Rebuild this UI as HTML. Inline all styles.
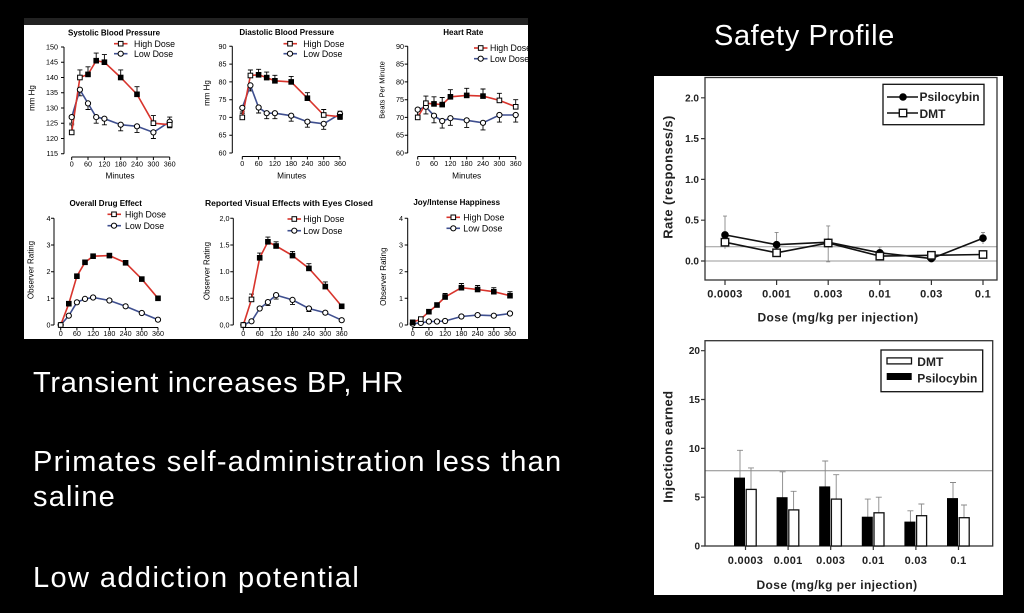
<!DOCTYPE html>
<html><head><meta charset="utf-8"><style>
html,body{margin:0;padding:0;background:#000;}
body{width:1024px;height:613px;overflow:hidden;position:relative;font-family:"Liberation Sans",Arial,sans-serif;}
.t{position:absolute;color:#fff;font-size:29px;letter-spacing:0.6px;white-space:nowrap;line-height:1;}
svg{position:absolute;left:0;top:0;}
</style></head><body>
<svg width="1024" height="613" viewBox="0 0 1024 613" xmlns="http://www.w3.org/2000/svg" font-family="Liberation Sans, Arial, sans-serif">
<rect x="0" y="0" width="1024" height="613" fill="#000"/>
<rect x="24" y="18" width="504" height="7" fill="#222"/>
<rect x="24" y="25" width="504" height="314" fill="#fff"/>
<rect x="654" y="76" width="349" height="519" fill="#fff"/>

<!-- ============ P1 Systolic ============ -->
<g stroke="#000" stroke-width="1" fill="none">
<path d="M64 47V153.7 M61 47H64 M61 62.2H64 M61 77.5H64 M61 92.7H64 M61 108H64 M61 123.2H64 M61 138.5H64 M61 153.7H64"/>
<path d="M71.7 157H169.7 M71.7 157V160 M88 157V160 M104.4 157V160 M120.7 157V160 M137 157V160 M153.4 157V160 M169.7 157V160"/>
</g>
<g font-size="7.2" fill="#000" text-anchor="end">
<text x="58" y="49.5">150</text><text x="58" y="64.7">145</text><text x="58" y="80">140</text><text x="58" y="95.2">135</text><text x="58" y="110.5">130</text><text x="58" y="125.7">125</text><text x="58" y="141">120</text><text x="58" y="156.2">115</text>
</g>
<g font-size="7.2" fill="#000" text-anchor="middle">
<text x="71.7" y="166.5">0</text><text x="88" y="166.5">60</text><text x="104.4" y="166.5">120</text><text x="120.7" y="166.5">180</text><text x="137" y="166.5">240</text><text x="153.4" y="166.5">300</text><text x="169.7" y="166.5">360</text>
<text x="120" y="178.5" font-size="8.3">Minutes</text>
<text x="114" y="35.5" font-size="8" font-weight="bold">Systolic Blood Pressure</text>
<text transform="translate(34.5,98) rotate(-90)" font-size="8">mm Hg</text>
</g>
<g>
<path d="M114 43.7H127.5" stroke="#d8342c" stroke-width="1.6"/>
<rect x="118.4" y="41.4" width="4.6" height="4.6" fill="#fff" stroke="#000"/>
<path d="M114 53.7H127.5" stroke="#3f4f8f" stroke-width="1.6"/>
<circle cx="120.7" cy="53.7" r="2.6" fill="#fff" stroke="#000"/>
<text x="134" y="46.8" font-size="8.8">High Dose</text>
<text x="134" y="56.8" font-size="8.8">Low Dose</text>
</g>
<g fill="none" stroke="#000" stroke-width="0.9">
<path d="M71.7 132.4V124.8M69.2 124.8H74.2 M79.9 77.5V69.9M77.4 69.9H82.4 M88 74.4V66.8M85.5 66.8H90.5 M96.2 60.7V53.1M93.7 53.1H98.7 M104.4 62.2V54.6M101.9 54.6H106.9 M120.7 77.5V69.9M118.2 69.9H123.2 M137 94.3V86.7M134.5 86.7H139.5 M153.4 123.2V115.6M150.9 115.6H155.9 M169.7 124.7V117.1M167.2 117.1H172.2"/>
<path d="M71.7 117.1V123.2M69.2 123.2H74.2 M79.9 89.7V95.8M77.4 95.8H82.4 M88 103.4V109.5M85.5 109.5H90.5 M96.2 117.1V123.2M93.7 123.2H98.7 M104.4 118.7V124.8M101.9 124.8H106.9 M120.7 124.7V130.8M118.2 130.8H123.2 M137 126.3V132.4M134.5 132.4H139.5 M153.4 132.4V138.5M150.9 138.5H155.9 M169.7 121.7V127.8M167.2 127.8H172.2"/>
</g>
<polyline points="71.7,117.1 79.9,89.7 88.0,103.4 96.2,117.1 104.4,118.7 120.7,124.7 137.0,126.3 153.4,132.4 169.7,121.7" fill="none" stroke="#3f4f8f" stroke-width="1.6"/>
<polyline points="71.7,132.4 79.9,77.5 88.0,74.4 96.2,60.7 104.4,62.2 120.7,77.5 137.0,94.3 153.4,123.2 169.7,124.7" fill="none" stroke="#d8342c" stroke-width="1.6"/>
<g stroke="#000" stroke-width="1" fill="#fff">
<circle cx="71.7" cy="117.1" r="2.6"/><circle cx="79.9" cy="89.7" r="2.6"/><circle cx="88" cy="103.4" r="2.6"/><circle cx="96.2" cy="117.1" r="2.6"/><circle cx="104.4" cy="118.7" r="2.6"/><circle cx="120.7" cy="124.7" r="2.6"/><circle cx="137" cy="126.3" r="2.6"/><circle cx="153.4" cy="132.4" r="2.6"/><circle cx="169.7" cy="121.7" r="2.6"/>
<rect x="69.4" y="130.1" width="4.6" height="4.6"/><rect x="77.6" y="75.2" width="4.6" height="4.6"/>
<rect x="85.7" y="72.1" width="4.6" height="4.6" fill="#000"/><rect x="93.9" y="58.4" width="4.6" height="4.6" fill="#000"/><rect x="102.1" y="59.9" width="4.6" height="4.6" fill="#000"/><rect x="118.4" y="75.2" width="4.6" height="4.6" fill="#000"/><rect x="134.7" y="92" width="4.6" height="4.6" fill="#000"/>
<rect x="151.1" y="120.9" width="4.6" height="4.6"/><rect x="167.4" y="122.4" width="4.6" height="4.6"/>
</g>

<!-- ============ P2 Diastolic ============ -->
<g stroke="#000" stroke-width="1" fill="none">
<path d="M232.3 46.3V153 M229.3 46.3H232.3 M229.3 64.1H232.3 M229.3 81.9H232.3 M229.3 99.7H232.3 M229.3 117.4H232.3 M229.3 135.2H232.3 M229.3 153H232.3"/>
<path d="M242.3 156.5H340 M242.3 156.5V159.5 M258.6 156.5V159.5 M274.9 156.5V159.5 M291.2 156.5V159.5 M307.4 156.5V159.5 M323.7 156.5V159.5 M340 156.5V159.5"/>
</g>
<g font-size="7.2" fill="#000" text-anchor="end">
<text x="226.5" y="48.8">90</text><text x="226.5" y="66.6">85</text><text x="226.5" y="84.4">80</text><text x="226.5" y="102.2">75</text><text x="226.5" y="119.9">70</text><text x="226.5" y="137.7">65</text><text x="226.5" y="155.5">60</text>
</g>
<g font-size="7.2" fill="#000" text-anchor="middle">
<text x="242.3" y="166">0</text><text x="258.6" y="166">60</text><text x="274.9" y="166">120</text><text x="291.2" y="166">180</text><text x="307.4" y="166">240</text><text x="323.7" y="166">300</text><text x="340" y="166">360</text>
<text x="291.7" y="178.5" font-size="8.3">Minutes</text>
<text x="286.7" y="35" font-size="8" font-weight="bold">Diastolic Blood Pressure</text>
<text transform="translate(209.5,93) rotate(-90)" font-size="8">mm Hg</text>
</g>
<g>
<path d="M283.5 43.7H297" stroke="#d8342c" stroke-width="1.6"/>
<rect x="287.7" y="41.4" width="4.6" height="4.6" fill="#fff" stroke="#000"/>
<path d="M283.5 53.7H297" stroke="#3f4f8f" stroke-width="1.6"/>
<circle cx="290" cy="53.7" r="2.6" fill="#fff" stroke="#000"/>
<text x="303.3" y="46.8" font-size="8.8">High Dose</text>
<text x="303.3" y="56.8" font-size="8.8">Low Dose</text>
</g>
<g fill="none" stroke="#000" stroke-width="0.9">
<path d="M242.3 117.4V111.9M239.8 111.9H244.8 M250.4 75.5V70M247.9 70H252.9 M258.6 74.8V69.3M256.1 69.3H261.1 M266.7 77.6V72.1M264.2 72.1H269.2 M274.9 80.8V75.3M272.4 75.3H277.4 M291.2 81.9V76.4M288.7 76.4H293.7 M307.4 98.2V92.7M304.9 92.7H309.9 M323.7 115V109.5M321.2 109.5H326.2 M340 116.7V111.2M337.5 111.2H342.5"/>
<path d="M242.3 107.8V113.3M239.8 113.3H244.8 M250.4 85.4V90.9M247.9 90.9H252.9 M258.6 107.5V113M256.1 113H261.1 M266.7 113.2V118.7M264.2 118.7H269.2 M274.9 113.2V118.7M272.4 118.7H277.4 M291.2 115.7V121.2M288.7 121.2H293.7 M307.4 121.7V127.2M304.9 127.2H309.9 M323.7 123.8V129.3M321.2 129.3H326.2 M340 113.9V119.4M337.5 119.4H342.5"/>
</g>
<polyline points="242.3,107.8 250.4,85.4 258.6,107.5 266.7,113.2 274.9,113.2 291.2,115.7 307.4,121.7 323.7,123.8 340,113.9" fill="none" stroke="#3f4f8f" stroke-width="1.6"/>
<polyline points="242.3,117.4 250.4,75.5 258.6,74.8 266.7,77.6 274.9,80.8 291.2,81.9 307.4,98.2 323.7,115 340,116.7" fill="none" stroke="#d8342c" stroke-width="1.6"/>
<g stroke="#000" stroke-width="1" fill="#fff">
<circle cx="242.3" cy="107.8" r="2.6"/><circle cx="250.4" cy="85.4" r="2.6"/><circle cx="258.6" cy="107.5" r="2.6"/><circle cx="266.7" cy="113.2" r="2.6"/><circle cx="274.9" cy="113.2" r="2.6"/><circle cx="291.2" cy="115.7" r="2.6"/><circle cx="307.4" cy="121.7" r="2.6"/><circle cx="323.7" cy="123.8" r="2.6"/><circle cx="340" cy="113.9" r="2.6"/>
<rect x="240" y="115.1" width="4.6" height="4.6"/><rect x="248.1" y="73.2" width="4.6" height="4.6"/>
<rect x="256.3" y="72.5" width="4.6" height="4.6" fill="#000"/><rect x="264.4" y="75.3" width="4.6" height="4.6" fill="#000"/><rect x="272.6" y="78.5" width="4.6" height="4.6" fill="#000"/><rect x="288.9" y="79.6" width="4.6" height="4.6" fill="#000"/><rect x="305.1" y="95.9" width="4.6" height="4.6" fill="#000"/>
<rect x="321.4" y="112.7" width="4.6" height="4.6"/><rect x="337.7" y="114.4" width="4.6" height="4.6" fill="#000"/>
</g>

<!-- ============ P3 Heart rate ============ -->
<g stroke="#000" stroke-width="1" fill="none">
<path d="M407.7 46.3V153 M404.7 46.3H407.7 M404.7 64.1H407.7 M404.7 81.9H407.7 M404.7 99.7H407.7 M404.7 117.4H407.7 M404.7 135.2H407.7 M404.7 153H407.7"/>
<path d="M417.7 156.5H515.7 M417.7 156.5V159.5 M434 156.5V159.5 M450.4 156.5V159.5 M466.7 156.5V159.5 M483 156.5V159.5 M499.4 156.5V159.5 M515.7 156.5V159.5"/>
</g>
<g font-size="7.2" fill="#000" text-anchor="end">
<text x="404" y="48.8">90</text><text x="404" y="66.6">85</text><text x="404" y="84.4">80</text><text x="404" y="102.2">75</text><text x="404" y="119.9">70</text><text x="404" y="137.7">65</text><text x="404" y="155.5">60</text>
</g>
<g font-size="7.2" fill="#000" text-anchor="middle">
<text x="417.7" y="166">0</text><text x="434" y="166">60</text><text x="450.4" y="166">120</text><text x="466.7" y="166">180</text><text x="483" y="166">240</text><text x="499.4" y="166">300</text><text x="515.7" y="166">360</text>
<text x="466.7" y="178.5" font-size="8.3">Minutes</text>
<text x="463.3" y="35" font-size="8" font-weight="bold">Heart Rate</text>
<text transform="translate(384.3,90) rotate(-90)" font-size="7.5">Beats Per Minute</text>
</g>
<g>
<path d="M474 48H487.5" stroke="#d8342c" stroke-width="1.6"/>
<rect x="478.4" y="45.7" width="4.6" height="4.6" fill="#fff" stroke="#000"/>
<path d="M474 58.7H487.5" stroke="#3f4f8f" stroke-width="1.6"/>
<circle cx="480.7" cy="58.7" r="2.6" fill="#fff" stroke="#000"/>
<text x="490" y="51.1" font-size="8.8">High Dose</text>
<text x="490" y="61.8" font-size="8.8">Low Dose</text>
</g>
<g fill="none" stroke="#000" stroke-width="0.9">
<path d="M417.7 117.4V110.3M415.2 110.3H420.2 M425.9 103.2V96.1M423.4 96.1H428.4 M434 103.9V96.8M431.5 96.8H436.5 M442.2 104.6V97.5M439.7 97.5H444.7 M450.4 96.8V89.7M447.9 89.7H452.9 M466.7 95.4V88.3M464.2 88.3H469.2 M483 96.1V89M480.5 89H485.5 M499.4 100.4V93.3M496.9 93.3H501.9 M515.7 106.8V99.7M513.2 99.7H518.2"/>
<path d="M417.7 109.6V116.7M415.2 116.7H420.2 M425.9 106.8V113.9M423.4 113.9H428.4 M434 115.7V122.8M431.5 122.8H436.5 M442.2 121V128.1M439.7 128.1H444.7 M450.4 118.2V125.3M447.9 125.3H452.9 M466.7 120.3V127.4M464.2 127.4H469.2 M483 122.8V129.9M480.5 129.9H485.5 M499.4 115V122.1M496.9 122.1H501.9 M515.7 115V122.1M513.2 122.1H518.2"/>
</g>
<polyline points="417.7,109.6 425.9,106.8 434,115.7 442.2,121 450.4,118.2 466.7,120.3 483,122.8 499.4,115 515.7,115" fill="none" stroke="#3f4f8f" stroke-width="1.6"/>
<polyline points="417.7,117.4 425.9,103.2 434,103.9 442.2,104.6 450.4,96.8 466.7,95.4 483,96.1 499.4,100.4 515.7,106.8" fill="none" stroke="#d8342c" stroke-width="1.6"/>
<g stroke="#000" stroke-width="1" fill="#fff">
<circle cx="417.7" cy="109.6" r="2.6"/><circle cx="425.9" cy="106.8" r="2.6"/><circle cx="434" cy="115.7" r="2.6"/><circle cx="442.2" cy="121" r="2.6"/><circle cx="450.4" cy="118.2" r="2.6"/><circle cx="466.7" cy="120.3" r="2.6"/><circle cx="483" cy="122.8" r="2.6"/><circle cx="499.4" cy="115" r="2.6"/><circle cx="515.7" cy="115" r="2.6"/>
<rect x="415.4" y="115.1" width="4.6" height="4.6"/><rect x="423.6" y="100.9" width="4.6" height="4.6"/>
<rect x="431.7" y="101.6" width="4.6" height="4.6" fill="#000"/><rect x="439.9" y="102.3" width="4.6" height="4.6" fill="#000"/><rect x="448.1" y="94.5" width="4.6" height="4.6" fill="#000"/><rect x="464.4" y="93.1" width="4.6" height="4.6" fill="#000"/><rect x="480.7" y="93.8" width="4.6" height="4.6" fill="#000"/>
<rect x="497.1" y="98.1" width="4.6" height="4.6"/><rect x="513.4" y="104.5" width="4.6" height="4.6"/>
</g>

<!-- ============ P4 Overall drug effect ============ -->
<g stroke="#000" stroke-width="1" fill="none">
<path d="M54 218.3V325 M51 218.3H54 M51 245H54 M51 271.7H54 M51 298.3H54 M51 325H54"/>
<path d="M60.7 327.5H158 M60.7 327.5V330.5 M76.9 327.5V330.5 M93.1 327.5V330.5 M109.4 327.5V330.5 M125.6 327.5V330.5 M141.8 327.5V330.5 M158 327.5V330.5"/>
</g>
<g font-size="7.2" fill="#000" text-anchor="end">
<text x="50.5" y="220.8">4</text><text x="50.5" y="247.5">3</text><text x="50.5" y="274.2">2</text><text x="50.5" y="300.8">1</text><text x="50.5" y="327.5">0</text>
</g>
<g font-size="7.2" fill="#000" text-anchor="middle">
<text x="60.7" y="336">0</text><text x="76.9" y="336">60</text><text x="93.1" y="336">120</text><text x="109.4" y="336">180</text><text x="125.6" y="336">240</text><text x="141.8" y="336">300</text><text x="158" y="336">360</text>
<text x="105.7" y="206" font-size="8" font-weight="bold">Overall Drug Effect</text>
<text transform="translate(33.5,270) rotate(-90)" font-size="8">Observer Rating</text>
</g>
<g>
<path d="M107.5 214.3H121" stroke="#d8342c" stroke-width="1.6"/>
<rect x="111.7" y="212" width="4.6" height="4.6" fill="#fff" stroke="#000"/>
<path d="M107.5 225.7H121" stroke="#3f4f8f" stroke-width="1.6"/>
<circle cx="114" cy="225.7" r="2.6" fill="#fff" stroke="#000"/>
<text x="125" y="217.4" font-size="8.8">High Dose</text>
<text x="125" y="228.8" font-size="8.8">Low Dose</text>
</g>
<polyline points="60.7,325 68.8,315.7 76.9,302.3 85,298.9 93.1,297.5 109.4,300.5 125.6,306.3 141.8,313 158,319.7" fill="none" stroke="#3f4f8f" stroke-width="1.6"/>
<polyline points="60.7,325 68.8,303.7 76.9,276.2 85,262.3 93.1,256.2 109.4,255.6 125.6,262.8 141.8,279.1 158,298.3" fill="none" stroke="#d8342c" stroke-width="1.6"/>
<g stroke="#000" stroke-width="1" fill="#fff">
<circle cx="60.7" cy="325" r="2.6"/><circle cx="68.8" cy="315.7" r="2.6"/><circle cx="76.9" cy="302.3" r="2.6"/><circle cx="85" cy="298.9" r="2.6"/><circle cx="93.1" cy="297.5" r="2.6"/><circle cx="109.4" cy="300.5" r="2.6"/><circle cx="125.6" cy="306.3" r="2.6"/><circle cx="141.8" cy="313" r="2.6"/><circle cx="158" cy="319.7" r="2.6"/>
<rect x="58.4" y="322.7" width="4.6" height="4.6"/>
<g fill="#000">
<rect x="66.5" y="301.4" width="4.6" height="4.6"/><rect x="74.6" y="273.9" width="4.6" height="4.6"/><rect x="82.7" y="260" width="4.6" height="4.6"/><rect x="90.8" y="253.9" width="4.6" height="4.6"/><rect x="107.1" y="253.3" width="4.6" height="4.6"/><rect x="123.3" y="260.5" width="4.6" height="4.6"/><rect x="139.5" y="276.8" width="4.6" height="4.6"/><rect x="155.7" y="296" width="4.6" height="4.6"/>
</g>
</g>

<!-- ============ P5 Visual effects ============ -->
<g stroke="#000" stroke-width="1" fill="none">
<path d="M233.3 218.3V325 M230.3 218.3H233.3 M230.3 245H233.3 M230.3 271.7H233.3 M230.3 298.3H233.3 M230.3 325H233.3"/>
<path d="M243.3 327.5H341.7 M243.3 327.5V330.5 M259.7 327.5V330.5 M276.1 327.5V330.5 M292.5 327.5V330.5 M308.9 327.5V330.5 M325.3 327.5V330.5 M341.7 327.5V330.5"/>
</g>
<g font-size="7.2" fill="#000" text-anchor="end">
<text x="229.5" y="220.8">2,0</text><text x="229.5" y="247.5">1.5</text><text x="229.5" y="274.2">1.0</text><text x="229.5" y="300.8">0.5</text><text x="229.5" y="327.5">0,0</text>
</g>
<g font-size="7.2" fill="#000" text-anchor="middle">
<text x="243.3" y="336">0</text><text x="259.7" y="336">60</text><text x="276.1" y="336">120</text><text x="292.5" y="336">180</text><text x="308.9" y="336">240</text><text x="325.3" y="336">300</text><text x="341.7" y="336">360</text>
<text transform="translate(209.5,271) rotate(-90)" font-size="8">Observer Rating</text>
</g>
<text x="205" y="206" font-size="8" font-weight="bold" textLength="168" lengthAdjust="spacingAndGlyphs">Reported Visual Effects with Eyes Closed</text>
<g>
<path d="M287.5 219H301" stroke="#d8342c" stroke-width="1.6"/>
<rect x="292" y="216.7" width="4.6" height="4.6" fill="#fff" stroke="#000"/>
<path d="M287.5 230.7H301" stroke="#3f4f8f" stroke-width="1.6"/>
<circle cx="294.3" cy="230.7" r="2.6" fill="#fff" stroke="#000"/>
<text x="303.3" y="222.1" font-size="8.8">High Dose</text>
<text x="303.3" y="233.8" font-size="8.8">Low Dose</text>
</g>
<g fill="none" stroke="#000" stroke-width="0.9">
<path d="M251.5 299.4V294.1M249 294.1H254 M259.7 257.8V253.1M257.2 253.1H262.2 M267.9 241.8V237.1M265.4 237.1H270.4 M276.1 246V241.8M273.6 241.8H278.6 M292.5 255.6V251.4M290 251.4H295 M308.9 268.4V263.7M306.4 263.7H311.4 M325.3 286.6V281.9M322.8 281.9H327.8"/>
<path d="M267.9 302.1V305.6M265.4 305.6H270.4 M276.1 295.1V299.1 M273.6 299.1H278.6 M292.5 299.9V304.4M290 304.4H295 M308.9 308.5V311.5M306.4 311.5H311.4"/>
</g>
<polyline points="243.3,325 251.5,321.3 259.7,308.5 267.9,302.1 276.1,295.1 292.5,299.9 308.9,308.5 325.3,312.7 341.7,320.2" fill="none" stroke="#3f4f8f" stroke-width="1.6"/>
<polyline points="243.3,325 251.5,299.4 259.7,257.8 267.9,241.8 276.1,246 292.5,255.6 308.9,268.4 325.3,286.6 341.7,306.3" fill="none" stroke="#d8342c" stroke-width="1.6"/>
<g stroke="#000" stroke-width="1" fill="#fff">
<circle cx="243.3" cy="325" r="2.6"/><circle cx="251.5" cy="321.3" r="2.6"/><circle cx="259.7" cy="308.5" r="2.6"/><circle cx="267.9" cy="302.1" r="2.6"/><circle cx="276.1" cy="295.1" r="2.6"/><circle cx="292.5" cy="299.9" r="2.6"/><circle cx="308.9" cy="308.5" r="2.6"/><circle cx="325.3" cy="312.7" r="2.6"/><circle cx="341.7" cy="320.2" r="2.6"/>
<rect x="241" y="322.7" width="4.6" height="4.6"/><rect x="249.2" y="297.1" width="4.6" height="4.6"/>
<g fill="#000">
<rect x="257.4" y="255.5" width="4.6" height="4.6"/><rect x="265.6" y="239.5" width="4.6" height="4.6"/><rect x="273.8" y="243.7" width="4.6" height="4.6"/><rect x="290.2" y="253.3" width="4.6" height="4.6"/><rect x="306.6" y="266.1" width="4.6" height="4.6"/><rect x="323" y="284.3" width="4.6" height="4.6"/><rect x="339.4" y="304" width="4.6" height="4.6"/>
</g>
</g>

<!-- ============ P6 Joy ============ -->
<g stroke="#000" stroke-width="1" fill="none">
<path d="M407.7 218.3V325 M404.7 218.3H407.7 M404.7 245H407.7 M404.7 271.7H407.7 M404.7 298.3H407.7 M404.7 325H407.7"/>
<path d="M412.7 327.5H510 M412.7 327.5V330.5 M428.9 327.5V330.5 M445.1 327.5V330.5 M461.4 327.5V330.5 M477.6 327.5V330.5 M493.8 327.5V330.5 M510 327.5V330.5"/>
</g>
<g font-size="7.2" fill="#000" text-anchor="end">
<text x="403" y="220.8">4</text><text x="403" y="247.5">3</text><text x="403" y="274.2">2</text><text x="403" y="300.8">1</text><text x="403" y="327.5">0</text>
</g>
<g font-size="7.2" fill="#000" text-anchor="middle">
<text x="412.7" y="336">0</text><text x="428.9" y="336">60</text><text x="445.1" y="336">120</text><text x="461.4" y="336">180</text><text x="477.6" y="336">240</text><text x="493.8" y="336">300</text><text x="510" y="336">360</text>
<text x="456.7" y="205" font-size="8" font-weight="bold">Joy/Intense Happiness</text>
<text transform="translate(386,276.7) rotate(-90)" font-size="8">Observer Rating</text>
</g>
<g>
<path d="M446.5 217.3H460" stroke="#d8342c" stroke-width="1.6"/>
<rect x="451" y="215" width="4.6" height="4.6" fill="#fff" stroke="#000"/>
<path d="M446.5 228.3H460" stroke="#3f4f8f" stroke-width="1.6"/>
<circle cx="453.3" cy="228.3" r="2.6" fill="#fff" stroke="#000"/>
<text x="463.3" y="220.4" font-size="8.8">High Dose</text>
<text x="463.3" y="231.4" font-size="8.8">Low Dose</text>
</g>
<g fill="none" stroke="#000" stroke-width="0.9">
<path d="M445.1 297V293.5M442.6 293.5H447.6 M461.4 287.7V283.5M458.9 283.5H463.9 M477.6 289.5V285.5M475.1 285.5H480.1 M493.8 291.7V287.7M491.3 287.7H496.3 M510 295.7V291.7M507.5 291.7H512.5"/>
</g>
<polyline points="412.7,323.7 420.8,322.9 428.9,321.5 437,321.5 445.1,321 461.4,316.5 477.6,315.1 493.8,315.7 510,313.5" fill="none" stroke="#3f4f8f" stroke-width="1.6"/>
<polyline points="412.7,322.3 420.8,319.1 428.9,311.7 437,305 445.1,297 461.4,287.7 477.6,289.5 493.8,291.7 510,295.7" fill="none" stroke="#d8342c" stroke-width="1.6"/>
<g stroke="#000" stroke-width="1" fill="#fff">
<circle cx="412.7" cy="323.7" r="2.6"/><circle cx="420.8" cy="322.9" r="2.6"/><circle cx="428.9" cy="321.5" r="2.6"/><circle cx="437" cy="321.5" r="2.6"/><circle cx="445.1" cy="321" r="2.6"/><circle cx="461.4" cy="316.5" r="2.6"/><circle cx="477.6" cy="315.1" r="2.6"/><circle cx="493.8" cy="315.7" r="2.6"/><circle cx="510" cy="313.5" r="2.6"/>
<rect x="410.4" y="320" width="4.6" height="4.6" fill="#000"/><rect x="418.5" y="316.8" width="4.6" height="4.6"/>
<g fill="#000">
<rect x="426.6" y="309.4" width="4.6" height="4.6"/><rect x="434.7" y="302.7" width="4.6" height="4.6"/><rect x="442.8" y="294.7" width="4.6" height="4.6"/><rect x="459.1" y="285.4" width="4.6" height="4.6"/><rect x="475.3" y="287.2" width="4.6" height="4.6"/><rect x="491.5" y="289.4" width="4.6" height="4.6"/><rect x="507.7" y="293.4" width="4.6" height="4.6"/>
</g>
</g>

<!-- ============ Right top: Rate ============ -->
<path d="M705 261H997 M705 246.7H997" stroke="#9a9a9a" stroke-width="1" fill="none"/>
<rect x="705" y="77.5" width="292" height="202.5" fill="none" stroke="#333" stroke-width="1.3"/>
<path d="M701 97.8H705 M701 138.6H705 M701 179.4H705 M701 220.2H705 M701 261H705 M725 280V285 M776.6 280V285 M828.2 280V285 M879.8 280V285 M931.4 280V285 M983 280V285" stroke="#333" stroke-width="1.2" fill="none"/>
<g font-size="10" font-weight="bold" fill="#222" text-anchor="end">
<text x="699" y="101.3">2.0</text><text x="699" y="142.1">1.5</text><text x="699" y="182.9">1.0</text><text x="699" y="223.7">0.5</text><text x="699" y="264.5">0.0</text>
</g>
<g font-size="11" font-weight="bold" fill="#222" text-anchor="middle" letter-spacing="0.3">
<text x="725" y="297.5">0.0003</text><text x="776.6" y="297.5">0.001</text><text x="828.2" y="297.5">0.003</text><text x="879.8" y="297.5">0.01</text><text x="931.4" y="297.5">0.03</text><text x="983" y="297.5">0.1</text>
<text x="838" y="321.5" font-size="12" letter-spacing="0.4">Dose (mg/kg per injection)</text>
<text transform="translate(672.5,177) rotate(-90)" font-size="13" letter-spacing="0.4">Rate (responses/s)</text>
</g>
<path d="M725 216.1V248.8 M723 216.1H727 M776.6 232.4V254 M774.6 232.4H778.6 M828.2 225.9V261.8 M826.2 225.9H830.2 M826.2 261.8H830.2 M879.8 247.1V258 M877.8 247.1H881.8 M983 232.4V244 M981 232.4H985" stroke="#888" stroke-width="0.9" fill="none"/>
<polyline points="725,234.9 776.6,244.7 828.2,242.2 879.8,252.8 931.4,258.6 983,238.2" fill="none" stroke="#111" stroke-width="1.6"/>
<polyline points="725,242.2 776.6,252.8 828.2,243 879.8,256.1 931.4,255.3 983,254.5" fill="none" stroke="#111" stroke-width="1.6"/>
<g fill="#000">
<circle cx="725" cy="234.9" r="3.8"/><circle cx="776.6" cy="244.7" r="3.8"/><circle cx="828.2" cy="242.2" r="3.8"/><circle cx="879.8" cy="252.8" r="3.8"/><circle cx="931.4" cy="258.6" r="3.8"/><circle cx="983" cy="238.2" r="3.8"/>
</g>
<g fill="#fff" stroke="#111" stroke-width="1.4">
<rect x="721.3" y="238.5" width="7.4" height="7.4"/><rect x="772.9" y="249.1" width="7.4" height="7.4"/><rect x="824.5" y="239.3" width="7.4" height="7.4"/><rect x="876.1" y="252.4" width="7.4" height="7.4"/><rect x="927.7" y="251.6" width="7.4" height="7.4"/><rect x="979.3" y="250.8" width="7.4" height="7.4"/>
</g>
<rect x="883" y="84.3" width="101" height="40.4" fill="#fff" stroke="#111" stroke-width="1.3"/>
<path d="M887 97H918 M887 113H918" stroke="#111" stroke-width="1.4"/>
<circle cx="903" cy="97" r="3.8" fill="#000"/>
<rect x="899.3" y="109.3" width="7.4" height="7.4" fill="#fff" stroke="#111" stroke-width="1.4"/>
<g font-size="12" font-weight="bold" fill="#222">
<text x="919.5" y="101.2">Psilocybin</text>
<text x="919.5" y="118">DMT</text>
</g>

<!-- ============ Right bottom: Injections ============ -->
<path d="M705 470.7H992.7" stroke="#8a8a8a" stroke-width="1" fill="none"/>
<rect x="705" y="340.7" width="287.7" height="205.3" fill="none" stroke="#333" stroke-width="1.3"/>
<path d="M701 350.7H705 M701 399.5H705 M701 448.4H705 M701 497.2H705 M701 546H705 M745.5 546V550 M788.1 546V550 M830.7 546V550 M873.3 546V550 M915.9 546V550 M958.5 546V550" stroke="#333" stroke-width="1.2" fill="none"/>
<g font-size="10" font-weight="bold" fill="#222" text-anchor="end">
<text x="700" y="354.2">20</text><text x="700" y="403">15</text><text x="700" y="451.9">10</text><text x="700" y="500.7">5</text><text x="700" y="549.5">0</text>
</g>
<g font-size="11" font-weight="bold" fill="#222" text-anchor="middle" letter-spacing="0.3">
<text x="745.5" y="564">0.0003</text><text x="788.1" y="564">0.001</text><text x="830.7" y="564">0.003</text><text x="873.3" y="564">0.01</text><text x="915.9" y="564">0.03</text><text x="958.5" y="564">0.1</text>
<text x="837" y="589" font-size="12" letter-spacing="0.4">Dose (mg/kg per injection)</text>
<text transform="translate(672.5,446.7) rotate(-90)" font-size="13" letter-spacing="0.3">Injections earned</text>
</g>
<g stroke="#888" stroke-width="0.9" fill="none">
<path d="M740 450.3V478 M737 450.3H743 M751 467.9V490 M748 467.9H754"/>
<path d="M782.6 471.8V498 M779.6 471.8H785.6 M793.6 491.3V510 M790.6 491.3H796.6"/>
<path d="M825.2 461V487 M822.2 461H828.2 M836.2 474.7V499 M833.2 474.7H839.2"/>
<path d="M867.8 499.1V517 M864.8 499.1H870.8 M878.8 497.2V513 M875.8 497.2H881.8"/>
<path d="M910.4 510.8V522 M907.4 510.8H913.4 M921.4 504V516 M918.4 504H924.4"/>
<path d="M953 482.5V498 M950 482.5H956 M964 505V518 M961 505H967"/>
</g>
<g fill="#000">
<rect x="734" y="477.6" width="11" height="68.4"/>
<rect x="776.6" y="497.2" width="11" height="48.8"/>
<rect x="819.2" y="486.4" width="11" height="59.6"/>
<rect x="861.8" y="516.7" width="11" height="29.3"/>
<rect x="904.4" y="521.6" width="11" height="24.4"/>
<rect x="947" y="498.1" width="11" height="47.9"/>
</g>
<g fill="#fff" stroke="#111" stroke-width="1.3">
<rect x="746.2" y="489.4" width="10" height="56.6"/>
<rect x="788.8" y="509.9" width="10" height="36.1"/>
<rect x="831.4" y="499.1" width="10" height="46.9"/>
<rect x="874" y="512.8" width="10" height="33.2"/>
<rect x="916.6" y="515.7" width="10" height="30.3"/>
<rect x="959.2" y="517.7" width="10" height="28.3"/>
</g>
<rect x="881" y="350" width="101.7" height="41.7" fill="#fff" stroke="#111" stroke-width="1.3"/>
<rect x="887" y="357.9" width="24.5" height="6" fill="#fff" stroke="#111" stroke-width="1.3"/>
<rect x="886.7" y="373" width="25" height="7" fill="#000"/>
<g font-size="12" font-weight="bold" fill="#222">
<text x="917.3" y="365.8">DMT</text>
<text x="917.3" y="382.3">Psilocybin</text>
</g>
</svg>

<div class="t" style="left:714px;top:22px;">Safety Profile</div>
<div class="t" style="left:33px;top:369px;letter-spacing:0.7px;">Transient increases BP, HR</div>
<div class="t" style="left:33px;top:448px;letter-spacing:1.25px;">Primates self-administration less than</div>
<div class="t" style="left:33px;top:483px;letter-spacing:1.2px;">saline</div>
<div class="t" style="left:33px;top:564px;letter-spacing:1.4px;">Low addiction potential</div>
</body></html>
